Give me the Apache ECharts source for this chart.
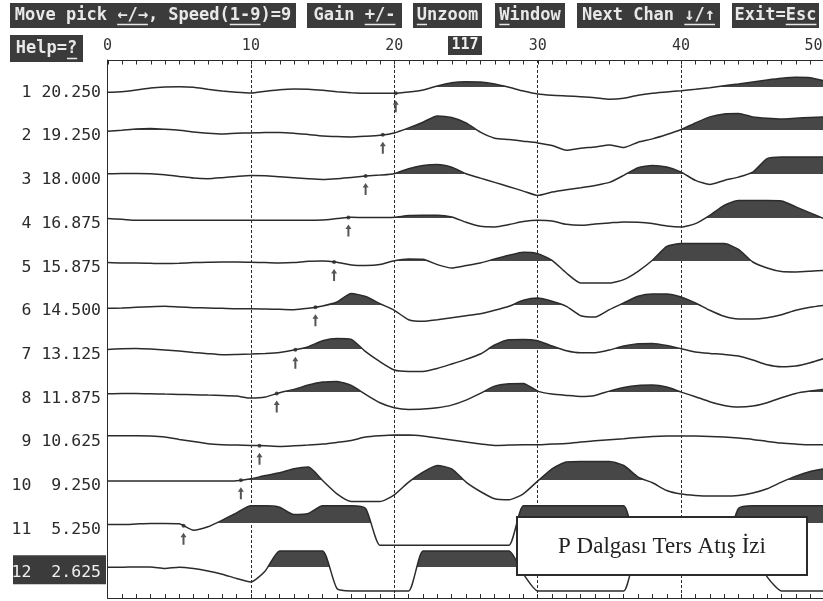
<!DOCTYPE html>
<html>
<head>
<meta charset="utf-8">
<title>P Dalgası Ters Atış İzi</title>
<script src="https://cdn.jsdelivr.net/npm/echarts@6/dist/echarts.min.js"></script>
<style>
  html, body { margin: 0; padding: 0; background: #fff; }
  #chart { width: 823px; height: 601px; }
</style>
</head>
<body>
<div id="chart"></div>
<script>
// Time samples (ms) shared by every trace
var times = [0,1,2,3,4,5,6,7,8,9,10,11,12,13,14,15,16,17,18,19,20,21,22,23,24,25,
  26,27,28,29,30,31,32,33,34,35,36,37,38,39,40,41,42,43,44,45,46,47,48,49,50];

var traceNumbers = [1,2,3,4,5,6,7,8,9,10,11,12];
var distances = [20.25,19.25,18.0,16.875,15.875,14.5,13.125,11.875,10.625,9.25,5.25,2.625];
// first-arrival picks (ms), trace 12 has none
var picks = [20.1,19.2,18.0,16.8,15.8,14.5,13.1,11.8,10.6,9.3,5.3,null];
var selectedTrace = 12;
var cursorValue = 117;
var boxTitle = 'P Dalgası Ters Atış İzi';

// amplitudes, positive = up (filled)
var trace1 = [-4.8,-4.2,-2.5,-0.5,0.5,0.8,0.2,-1.8,-3.5,-4.8,-5.5,
  -3.8,-2.2,-1.5,-1.8,-2.8,-4.2,-5.2,-5.8,-5.8,-5.8,
  -4.5,-2.5,1.5,4.8,5.8,5.5,3.5,0.2,-3.5,-6.5,
  -7.8,-8.5,-9.2,-10.2,-11.8,-10.8,-7.8,-5.8,-4.5,-3.2,
  -1.8,-0.2,1.8,3.5,5.5,7.5,9.2,10.2,9.8,6.5];
var trace2 = [0,1,2.3,2.7,2,1,-0.7,-2,-2.7,-2,-1.7,
  -1.3,-1.3,-2,-3.3,-4.7,-5.3,-5.7,-5,-4,-1.7,
  3.3,9,15.3,13.7,8.3,-1,-7,-8.3,-10,-11.7,
  -14.3,-19,-17,-15.7,-13.7,-16.3,-11,-7.7,-3.3,1.7,
  8.3,14.3,17.3,17.7,14.3,13,12.3,13,13.7,14.3];
var trace3 = [1.2,1.5,1.5,1.2,0.2,-1.5,-3.2,-3.8,-2.8,-1.5,-0.5,
  -0.8,-1.8,-2.8,-3.8,-4.5,-3.8,-2.5,-1.2,-0.2,1.2,
  6.2,9.5,10.5,7.8,1.2,-3.2,-7.5,-11.8,-16.2,-20.5,
  -17.2,-14.8,-12.8,-10.5,-7.5,-0.5,7.2,9.5,7.8,2.8,
  -5.5,-9.5,-5.5,-2.2,2.8,16.2,17.8,17.8,17.8,17.8];
var trace4 = [0,-0.7,-1.7,-1.7,-1.7,-1.7,-1.7,-1.7,-1.7,-1.7,-1.7,
  -1.7,-1.7,-1.7,-1.7,-1.3,0,1.3,1,1,1.3,
  3,3.3,3.3,1.7,-3.7,-7.7,-8.3,-6,-3,-1.7,
  -2.3,-5.7,-6.7,-5.3,-4.3,-3.3,-3.7,-5,-7.3,-8.3,
  -5,3.3,13.3,18,18,18,17.7,11.7,5.7,-0.3];
var trace5 = [-0.3,-0.7,-0.7,-1,-1.3,-1,-0.3,0,0.3,0.3,0,
  -0.3,-0.7,-0.3,1,1.3,0,-2.7,-3.3,-2.3,1.5,
  3.3,3,-2.3,-5.7,-3.3,-0.7,3.3,7,10,8.7,
  2,-10.7,-20.7,-20.7,-20.7,-17.3,-9,2,16,18.7,
  18.7,18.7,18.7,13,0.3,-5.7,-9.3,-9.7,-9,-8];
var trace6 = [-2.3,-2,-1.3,-0.7,-0.3,-1,-1.7,-2,-2.3,-2.7,-2.7,
  -3,-3.3,-3.7,-2.3,0,4,12.5,9.5,2.3,-4.3,
  -13.7,-15.3,-13.7,-11.7,-9.7,-7.7,-4.3,-0.3,5.7,8,
  4.7,-0.3,-9.7,-11,-3.7,3,9.7,12,12,9,
  3,-4.3,-10.3,-13,-13,-11.7,-8.7,-4.3,-1.3,0.7];
var trace7 = [0.3,1,1.3,0.7,-0.3,-1.3,-2.7,-4,-5,-4.7,-4.3,
  -3.7,-2.7,-0.3,3,9,11.3,10.3,-2,-12,-20.3,
  -21.7,-21.7,-18.7,-14.3,-9.7,-4.3,4.7,10,10.3,9,
  3.7,-1,-3,-3,-0.3,3.7,6,6.3,4.3,1,
  -2.3,-3.7,-4.7,-6.3,-10.3,-15,-17,-16.3,-13,-8.7];
var trace8 = [-0.3,0,0,-0.3,-0.7,-1,-1.3,-1.7,-2,-2.7,-4.7,
  -3.7,0.7,4,8.3,11.3,12,8,-1,-9.3,-14.3,
  -16,-15.7,-14.3,-11.7,-6.7,0,7.3,9.7,10,2.3,
  -0.7,-2,-3,-2,2.3,6,8,8.3,6.3,1.3,
  -3.3,-8.3,-12,-13.7,-12.7,-9.3,-4.3,0,2.3,4];
var trace9 = [1.3,1.3,1.3,1,0,-2.3,-4.3,-6.7,-7.7,-8,-8.3,
  -8.7,-9.3,-8.7,-8,-7,-5.3,-3.3,0,1.3,2,
  2,1,-1,-3,-5,-7,-8.3,-8,-7.7,-7.7,
  -7,-6.3,-5,-3.7,-2.7,-1.7,-0.3,0.7,1,1,
  1,0.7,0,-1,-2.3,-4.3,-6,-7,-7.7,-7.7];
var trace10 = [-0.3,-0.3,-0.3,-0.3,-0.3,-0.3,-0.3,-0.3,-0.3,0,2,
  5.3,8,12,13.7,0.3,-13,-20.7,-20.7,-20.7,-14,
  -1.3,8.7,15.3,12,-1.3,-10.7,-18,-19,-13,-0.3,
  12,18.7,19.3,19.3,19.3,15.3,3.7,-2,-9.7,-13.3,
  -14.7,-15.3,-15.3,-14.7,-12.3,-8,-1.3,4.7,9.3,12];
var trace11 = [0,0,0.5,1,1,0.7,-5.7,-2.3,4.3,11.7,18.7,
  18.7,17.3,10,11,18.7,18.7,18.7,16,-20.7,-20.7,
  -20.7,-20.7,-20.7,-20.7,-20.7,-20.7,-20.7,-20.7,18.7,18.7,
  18.7,18.7,18.7,18.7,18.7,18.7,-20.7,-20.7,-20.7,-20.7,
  -20.7,-20.7,-20.7,16,18.7,18.7,18.7,18.7,18.7,18.7];
var trace12 = [1,1,1.3,1.3,-0.3,1,-0.3,-2.7,-6,-10.3,-13.7,
  -2.7,17.3,17.3,17.3,17.3,-20.3,-22.7,-22.7,-22.7,-22.7,
  -22.7,17.3,17.3,17.3,17.3,17.3,17.3,17.3,-5.7,-22.7,
  -22.7,-22.7,-22.7,-22.7,-22.7,-22.7,17.3,17.3,17.3,17.3,
  17.3,17.3,17.3,17.3,17.3,-8.7,-22.7,-22.7,-22.7,-22.7];

var traces = [trace1,trace2,trace3,trace4,trace5,trace6,trace7,trace8,trace9,trace10,trace11,trace12];

// menu bar: label and underlined [start, count] character runs
var menuLabels = ['Move pick ←/→, Speed(1-9)=9', 'Gain +/-', 'Unzoom', 'Window', 'Next Chan ↓/↑', 'Exit=Esc', 'Help=?'];
var menuUnderlines = [[[10,3],[21,3]], [[5,3]], [[0,1]], [[0,1]], [[10,3]], [[5,3]], [[5,1]]];

// ---- layout / style ----
var PLOT_LEFT = 107.5, PLOT_RIGHT = -1.5, PLOT_TOP = 60, PLOT_BOTTOM = 3;
var FIRST_ZERO = 87.5, TRACE_GAP = 43.7, HALF = 25, TICK_LEN = 4;
var MONO = '"DejaVu Sans Mono", "Liberation Mono", monospace';
var INK = '#2b2b2b', FILL = '#474747', BTN_BG = '#3b3b3b', BTN_FG = '#e8e8e8';
var SMOOTH = 0.2;
var menuBoxes = [
  {x: 10, y: 3, w: 286, h: 25}, {x: 307, y: 3, w: 95, h: 25}, {x: 413, y: 3, w: 69, h: 25},
  {x: 495, y: 3, w: 70, h: 25}, {x: 577, y: 3, w: 143, h: 25}, {x: 732, y: 3, w: 87, h: 25},
  {x: 10, y: 35, w: 73, h: 27}
];

function valueAt(arr, t) {
  for (var k = 0; k < times.length - 1; k++) {
    if (t >= times[k] && t <= times[k + 1]) {
      var f = (t - times[k]) / (times[k + 1] - times[k]);
      return arr[k] + f * (arr[k + 1] - arr[k]);
    }
  }
  return arr[arr.length - 1];
}

var chart = echarts.init(document.getElementById('chart'), null, {renderer: 'canvas'});

var axisStyle = {color: INK, width: 1};
// outerBoundsMode none: keep the plot exactly where it is, labels may touch the edge
var grids = [{left: PLOT_LEFT, right: PLOT_RIGHT, top: PLOT_TOP, bottom: PLOT_BOTTOM, outerBoundsMode: 'none'}];
var xAxes = [
  {
    gridIndex: 0, type: 'value', position: 'top', min: 0, max: 50, interval: 10,
    axisLine: {show: true, onZero: false, lineStyle: axisStyle},
    axisTick: {show: false},
    axisLabel: {
      margin: 6, color: '#333', fontFamily: MONO, fontSize: 15,
      formatter: function (v) { return v === 50 ? '{e|50}' : String(v); },
      rich: {e: {fontFamily: MONO, fontSize: 15, color: '#333', padding: [0, 22, 0, 0]}}
    },
    splitLine: {show: true, lineStyle: {color: INK, width: 1, type: [3, 2]}}
  },
  {
    gridIndex: 0, type: 'value', position: 'bottom', min: 0, max: 50, interval: 10,
    axisLine: {show: true, onZero: false, lineStyle: axisStyle},
    axisTick: {show: true, inside: true, length: TICK_LEN, lineStyle: axisStyle},
    minorTick: {show: true, splitNumber: 10, length: TICK_LEN, lineStyle: axisStyle},
    axisLabel: {show: false}, splitLine: {show: false}
  }
];
var yAxes = [{
  gridIndex: 0, type: 'value', min: 0, max: 1,
  axisLine: {show: true, onZero: false, lineStyle: axisStyle},
  axisTick: {show: false}, axisLabel: {show: false}, splitLine: {show: false}
}];
var series = [];
var graphics = [];

traces.forEach(function (tr, i) {
  var zero = FIRST_ZERO + TRACE_GAP * i;
  grids.push({left: PLOT_LEFT, right: PLOT_RIGHT, top: zero - HALF, height: HALF * 2, outerBoundsMode: 'none'});
  xAxes.push({gridIndex: i + 1, type: 'value', min: 0, max: 50, show: false});
  yAxes.push({gridIndex: i + 1, type: 'value', min: -HALF, max: HALF, show: false});
  var xi = xAxes.length - 1, yi = yAxes.length - 1;
  var pts = times.map(function (t, k) { return [t, tr[k]]; });

  // fill only above the zero line: hard-stop gradient in screen space,
  // stopped 1px above zero so no grey seam shows along negative lobes
  var cut = (HALF - 1) / (2 * HALF);
  var fillGrad = new echarts.graphic.LinearGradient(0, zero - HALF, 0, zero + HALF, [
    {offset: 0, color: FILL}, {offset: cut, color: FILL},
    {offset: cut, color: 'rgba(255,255,255,0)'}, {offset: 1, color: 'rgba(255,255,255,0)'}
  ], true);
  series.push({
    type: 'line', xAxisIndex: xi, yAxisIndex: yi, data: pts,
    symbol: 'none', smooth: SMOOTH, silent: true, z: 2,
    lineStyle: {opacity: 0}, areaStyle: {color: fillGrad, opacity: 1}
  });
  series.push({
    type: 'line', xAxisIndex: xi, yAxisIndex: yi, data: pts,
    symbol: 'none', smooth: SMOOTH, silent: true, z: 3,
    lineStyle: {color: INK, width: 1.5}
  });
  if (picks[i] != null) {
    var pv = [[picks[i], valueAt(tr, picks[i])]];
    series.push({
      type: 'scatter', xAxisIndex: xi, yAxisIndex: yi, data: pv, silent: true, z: 4,
      symbol: 'circle', symbolSize: 4, itemStyle: {color: INK}
    });
    series.push({
      type: 'scatter', xAxisIndex: xi, yAxisIndex: yi, data: pv, silent: true, z: 4,
      symbol: 'path://M3,0 L6,4.5 L4,4.5 L4,12 L2,12 L2,4.5 L0,4.5 Z',
      symbolSize: [6, 12], symbolOffset: [0, 13], symbolKeepAspect: false,
      itemStyle: {color: INK}
    });
  }

  // trace label on the left
  var txt = String(traceNumbers[i]).padStart(2, ' ') + ' ' + distances[i].toFixed(3).padStart(6, ' ');
  var isSel = traceNumbers[i] === selectedTrace;
  if (isSel) {
    graphics.push({type: 'rect', z: 100, shape: {x: 13, y: zero - 13, width: 93, height: 29}, style: {fill: BTN_BG}});
  }
  graphics.push({
    type: 'text', z: 101, x: 101, y: zero + 5,
    style: {text: txt.replace(/ /g, '\u00a0'), font: '16.5px ' + MONO, fill: isSel ? '#f0f0f0' : INK,
      align: 'right', verticalAlign: 'middle', textAlign: 'right', textVerticalAlign: 'middle'}
  });
});

// menu buttons
var BTN_FS = 17, CW = BTN_FS * 0.602;
menuLabels.forEach(function (label, j) {
  var b = menuBoxes[j];
  var cx = b.x + b.w / 2;
  graphics.push({type: 'rect', z: 100, shape: {x: b.x, y: b.y, width: b.w, height: b.h}, style: {fill: BTN_BG}});
  graphics.push({
    type: 'text', z: 101, x: cx, y: b.y + b.h / 2,
    style: {text: label, font: 'bold ' + BTN_FS + 'px ' + MONO, fill: BTN_FG,
      align: 'center', verticalAlign: 'middle', textAlign: 'center', textVerticalAlign: 'middle'}
  });
  var sx = cx - label.length * CW / 2;
  menuUnderlines[j].forEach(function (u) {
    var uy = b.y + b.h - 3.5;
    graphics.push({type: 'line', z: 101,
      shape: {x1: sx + u[0] * CW, y1: uy, x2: sx + (u[0] + u[1]) * CW, y2: uy},
      style: {stroke: BTN_FG, lineWidth: 1.5}});
  });
});

// cursor readout
graphics.push({type: 'rect', z: 100, shape: {x: 448, y: 36, width: 34, height: 19}, style: {fill: BTN_BG}});
graphics.push({type: 'text', z: 101, x: 465, y: 45.5,
  style: {text: String(cursorValue), font: 'bold 15px ' + MONO, fill: '#f0f0f0',
    align: 'center', verticalAlign: 'middle', textAlign: 'center', textVerticalAlign: 'middle'}});

// caption box
graphics.push({type: 'rect', z: 110, shape: {x: 517, y: 517, width: 290, height: 58},
  style: {fill: '#fff', stroke: INK, lineWidth: 2}});
graphics.push({type: 'text', z: 111, x: 662, y: 547,
  style: {text: boxTitle, font: '23px "Liberation Serif", "DejaVu Serif", serif', fill: '#222',
    align: 'center', verticalAlign: 'middle', textAlign: 'center', textVerticalAlign: 'middle'}});

chart.setOption({
  backgroundColor: '#fff',
  animation: false,
  grid: grids,
  xAxis: xAxes,
  yAxis: yAxes,
  series: series
});

// ticks hanging down from the top scale, placed through the top axis' own scale
// (snapped to half pixels so the 1px strokes stay crisp)
times.forEach(function (t) {
  var px = Math.round(chart.convertToPixel({xAxisIndex: 0}, t)) + 0.5;
  graphics.push({type: 'line', z: 50,
    shape: {x1: px, y1: PLOT_TOP, x2: px, y2: PLOT_TOP + TICK_LEN + 0.5},
    style: {stroke: INK, lineWidth: 1}});
});

chart.setOption({graphic: {elements: graphics}});
</script>
</body>
</html>
